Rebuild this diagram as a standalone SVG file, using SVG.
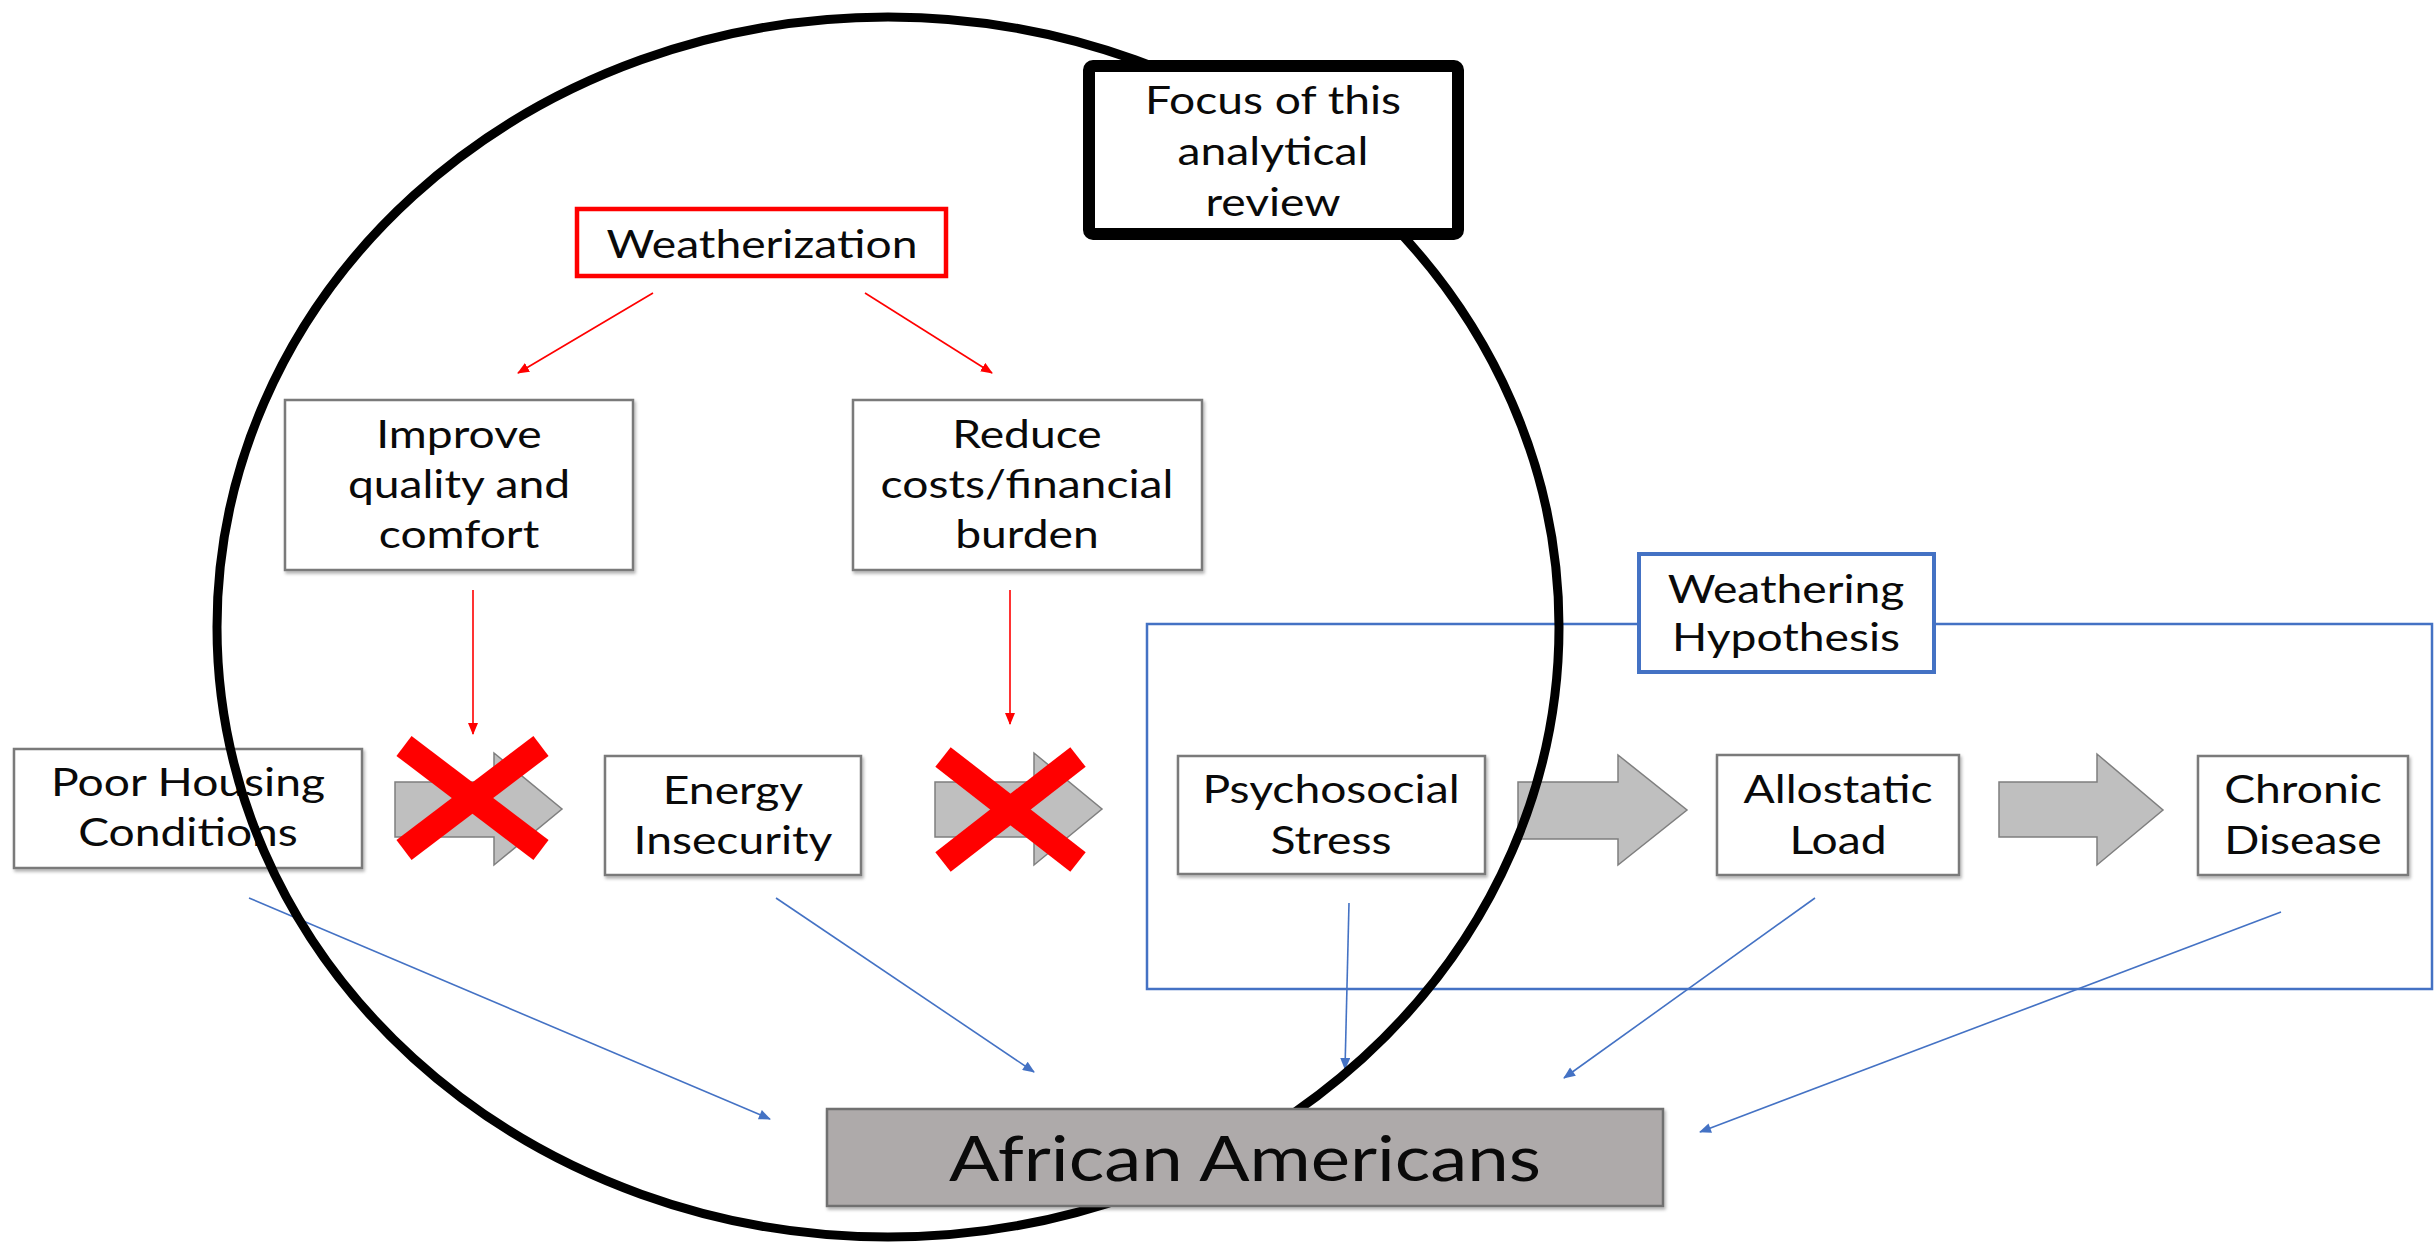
<svg xmlns="http://www.w3.org/2000/svg" width="2436" height="1243" viewBox="0 0 2436 1243">
<style>
.bg{fill:#ffffff}
.box{fill:#ffffff;stroke:#7a7a7a;stroke-width:2.5}
.t{font-family:Lato,"Liberation Sans",sans-serif;font-size:38.5px;fill:#0a0a0a;text-anchor:middle}
.big{font-size:62px}
.garrow{fill:#bfbfbf;stroke:#7f7f7f;stroke-width:1.5}
.redx{stroke:#ff0000;stroke-width:25;stroke-linecap:butt}
.ra{stroke:#ff0000;stroke-width:1.6;fill:none}
.ba{stroke:#4472c4;stroke-width:1.6;fill:none}
</style>
<defs>
<marker id="mr" viewBox="0 0 12 10" refX="11" refY="5" markerWidth="12" markerHeight="10" markerUnits="userSpaceOnUse" orient="auto">
<path d="M0,0 L12,5 L0,10 z" fill="#ff0000"/>
</marker>
<marker id="mb" viewBox="0 0 12 10" refX="11" refY="5" markerWidth="13" markerHeight="10" markerUnits="userSpaceOnUse" orient="auto">
<path d="M0,0 L12,5 L0,10 z" fill="#4472c4"/>
</marker>
<filter id="sh" x="-5%" y="-5%" width="110%" height="120%">
<feDropShadow dx="1.5" dy="2.5" stdDeviation="1.5" flood-color="#000000" flood-opacity="0.3"/>
</filter>
</defs>
<rect class="bg" x="0" y="0" width="2436" height="1243"/>

<g id="weathering-container">
<rect x="1147" y="624" width="1285" height="365" fill="none" stroke="#4472c4" stroke-width="2.5"/>
</g>

<g id="weatherization">
<rect x="577" y="209" width="369" height="67" fill="#ffffff" stroke="#ff0000" stroke-width="4.5"/>
<text class="t" transform="translate(762 0) scale(1.2 1)"><tspan x="0" y="258">Weatherization</tspan></text>
</g>

<g id="improve">
<rect class="box" filter="url(#sh)" x="285" y="400" width="348" height="170"/>
<text class="t" transform="translate(459 0) scale(1.2 1)"><tspan x="0" y="448">Improve</tspan><tspan x="0" y="498">quality and</tspan><tspan x="0" y="548">comfort</tspan></text>
</g>

<g id="reduce">
<rect class="box" filter="url(#sh)" x="853" y="400" width="349" height="170"/>
<text class="t" transform="translate(1027 0) scale(1.2 1)"><tspan x="0" y="448">Reduce</tspan><tspan x="0" y="498">costs/financial</tspan><tspan x="0" y="548">burden</tspan></text>
</g>

<g id="poor-housing">
<rect class="box" filter="url(#sh)" x="14" y="749" width="348" height="119"/>
<text class="t" transform="translate(188 0) scale(1.2 1)"><tspan x="0" y="796">Poor Housing</tspan><tspan x="0" y="846">Conditions</tspan></text>
</g>

<g id="energy-insecurity">
<rect class="box" filter="url(#sh)" x="605" y="756" width="256" height="119"/>
<text class="t" transform="translate(733 0) scale(1.2 1)"><tspan x="0" y="804">Energy</tspan><tspan x="0" y="854">Insecurity</tspan></text>
</g>

<g id="psychosocial-stress">
<rect class="box" filter="url(#sh)" x="1178" y="756" width="307" height="118"/>
<text class="t" transform="translate(1331 0) scale(1.2 1)"><tspan x="0" y="803">Psychosocial</tspan><tspan x="0" y="854">Stress</tspan></text>
</g>

<g id="allostatic-load">
<rect class="box" filter="url(#sh)" x="1717" y="755" width="242" height="120"/>
<text class="t" transform="translate(1838 0) scale(1.2 1)"><tspan x="0" y="803">Allostatic</tspan><tspan x="0" y="854">Load</tspan></text>
</g>

<g id="chronic-disease">
<rect class="box" filter="url(#sh)" x="2198" y="756" width="210" height="119"/>
<text class="t" transform="translate(2303 0) scale(1.2 1)"><tspan x="0" y="803">Chronic</tspan><tspan x="0" y="854">Disease</tspan></text>
</g>

<g id="weathering-hypothesis">
<rect x="1639" y="554" width="295" height="118" fill="#ffffff" stroke="#4472c4" stroke-width="4"/>
<text class="t" transform="translate(1786 0) scale(1.2 1)"><tspan x="0" y="603">Weathering</tspan><tspan x="0" y="651">Hypothesis</tspan></text>
</g>

<g id="connectors">
<path class="ra" marker-end="url(#mr)" d="M653,293 L518,373"/>
<path class="ra" marker-end="url(#mr)" d="M865,293 L992,373"/>
<path class="ra" marker-end="url(#mr)" d="M473,590 L473,734"/>
<path class="ra" marker-end="url(#mr)" d="M1010,590 L1010,724"/>
<polygon class="garrow" points="395,782 494,782 494,753 562,809 494,865 494,837 395,837"/>
<polygon class="garrow" points="935,782 1034,782 1034,753 1102,809 1034,865 1034,837 935,837"/>
<polygon class="garrow" points="1518,782 1618,782 1618,755 1687,810 1618,865 1618,839 1518,839"/>
<polygon class="garrow" points="1999,782 2097,782 2097,754 2163,810 2097,865 2097,837 1999,837"/>
<line class="redx" x1="404" y1="746" x2="541" y2="850"/>
<line class="redx" x1="541" y1="746" x2="404" y2="850"/>
<line class="redx" x1="943" y1="757" x2="1078" y2="862"/>
<line class="redx" x1="1078" y1="757" x2="943" y2="862"/>
<path class="ba" marker-end="url(#mb)" d="M249,898 L770,1119"/>
<path class="ba" marker-end="url(#mb)" d="M776,898 L1034,1072"/>
<path class="ba" marker-end="url(#mb)" d="M1349,903 L1345,1069"/>
<path class="ba" marker-end="url(#mb)" d="M1815,898 L1564,1078"/>
<path class="ba" marker-end="url(#mb)" d="M2281,912 L1700,1132"/>
</g>

<g id="focus-circle">
<ellipse cx="888" cy="627" rx="671" ry="610" fill="none" stroke="#000000" stroke-width="9"/>
</g>

<g id="focus-label">
<rect x="1089" y="66" width="369" height="168" rx="4" fill="#ffffff" stroke="#000000" stroke-width="12"/>
<text class="t" transform="translate(1273 0) scale(1.2 1)"><tspan x="0" y="114">Focus of this</tspan><tspan x="0" y="165">analytical</tspan><tspan x="0" y="216">review</tspan></text>
</g>

<g id="african-americans">
<rect x="827" y="1109" width="836" height="97" fill="#aeaaaa" stroke="#6f6f6f" stroke-width="2.5" filter="url(#sh)"/>
<text class="t big" transform="translate(1245 0) scale(1.2 1)"><tspan x="0" y="1181">African Americans</tspan></text>
</g>
</svg>
